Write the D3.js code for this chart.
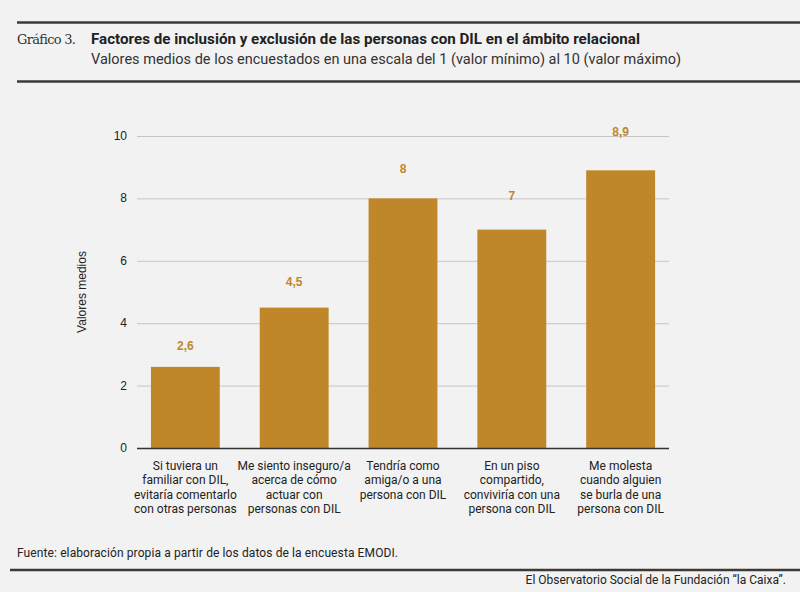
<!DOCTYPE html>
<html>
<head>
<meta charset="utf-8">
<script src="https://cdn.jsdelivr.net/npm/d3@7"></script>
<style>
  body { margin: 0; background: #f2f2f2; }
  svg { display: block; }
</style>
</head>
<body>
<svg width="800" height="592"></svg>
<script>
// data
var categories = [
    ["Si tuviera un", "familiar con DIL,", "evitaría comentarlo", "con otras personas"],
    ["Me siento inseguro/a", "acerca de cómo", "actuar con", "personas con DIL"],
    ["Tendría como", "amiga/o a una", "persona con DIL"],
    ["En un piso", "compartido,", "conviviría con una", "persona con DIL"],
    ["Me molesta", "cuando alguien", "se burla de una", "persona con DIL"]
];
var values = [2.6, 4.5, 8, 7, 8.9];
var yTicks = [0, 2, 4, 6, 8, 10];

var svg = d3.select("svg");
var gold = "#c0872a";

svg.append("rect").attr("width", 800).attr("height", 592).attr("fill", "#f2f2f2");

// header
svg.append("line").attr("x1", 17).attr("x2", 800).attr("y1", 22.5).attr("y2", 22.5)
    .style("stroke", "#3d3935").style("stroke-width", 2.5);
svg.append("line").attr("x1", 17).attr("x2", 800).attr("y1", 81.5).attr("y2", 81.5)
    .style("stroke", "#3d3935").style("stroke-width", 2.5);
svg.append("text").attr("x", 17).attr("y", 44).text("Gráfico 3.")
    .style("font-family", "'DejaVu Serif', serif").style("font-size", "13px")
    .style("fill", "#333").attr("textLength", 59);
svg.append("text").attr("x", 91).attr("y", 44).text("Factores de inclusión y exclusión de las personas con DIL en el ámbito relacional")
    .style("font-family", "Roboto, sans-serif").style("font-weight", "bold").style("font-size", "14.5px")
    .style("fill", "#222").attr("textLength", 549).attr("lengthAdjust", "spacingAndGlyphs");
svg.append("text").attr("x", 91).attr("y", 64).text("Valores medios de los encuestados en una escala del 1 (valor mínimo) al 10 (valor máximo)")
    .style("font-family", "Roboto, sans-serif").style("font-size", "14px")
    .style("fill", "#333").attr("textLength", 590).attr("lengthAdjust", "spacingAndGlyphs");

var x = d3.scaleBand().domain(d3.range(values.length)).range([137, 669])
    .paddingInner(0.367).paddingOuter(0.128);
var y = d3.scaleLinear().domain([0, 10]).range([448, 136]);

var plot = svg.append("g");

// gridlines + tick labels
plot.selectAll(".grid").data(yTicks.slice(1)).enter().append("line")
    .attr("x1", 137).attr("x2", 669)
    .attr("y1", function (d) { return y(d) + 0.5; })
    .attr("y2", function (d) { return y(d) + 0.5; })
    .style("stroke", "#c6c6c6").style("stroke-width", 1);

plot.selectAll(".tick").data(yTicks).enter().append("text")
    .attr("x", 127).attr("y", function (d) { return y(d) + 4; })
    .attr("text-anchor", "end").text(function (d) { return d; })
    .style("font-family", "'Liberation Sans', Arial, sans-serif").style("font-size", "12px").style("fill", "#222");

svg.append("text").attr("transform", "translate(86,292) rotate(-90)")
    .attr("text-anchor", "middle").text("Valores medios")
    .style("font-family", "'Liberation Sans', Arial, sans-serif").style("font-size", "12px").style("fill", "#222");

// bars
plot.selectAll(".bar").data(values).enter().append("rect")
    .attr("x", function (d, i) { return x(i); })
    .attr("y", function (d) { return y(d); })
    .attr("width", x.bandwidth())
    .attr("height", function (d) { return y(0) - y(d); })
    .style("fill", gold);

plot.selectAll(".val").data(values).enter().append("text")
    .attr("x", function (d, i) { return x(i) + x.bandwidth() / 2; })
    .attr("y", function (d, i) { return y(d) - 17 - 4.3 * i; })
    .attr("text-anchor", "middle")
    .text(function (d) { return String(d).replace(".", ","); })
    .style("font-family", "'Liberation Sans', Arial, sans-serif").style("font-weight", "bold")
    .style("font-size", "12px").style("fill", gold);

// axis line
plot.append("line").attr("x1", 137).attr("x2", 669).attr("y1", 448.5).attr("y2", 448.5)
    .style("stroke", "#333").style("stroke-width", 1.5);

// category labels
var lab = plot.selectAll(".cat").data(categories).enter().append("text")
    .attr("text-anchor", "middle")
    .style("font-family", "Roboto, sans-serif").style("font-size", "12px").style("fill", "#222");
lab.selectAll("tspan").data(function (d, i) { return d.map(function (t) { return [t, i]; }); })
    .enter().append("tspan")
    .attr("x", function (d) { return x(d[1]) + x.bandwidth() / 2; })
    .attr("y", function (d, j) { return 470 + j * 14.3; })
    .text(function (d) { return d[0]; });

// footer
svg.append("text").attr("x", 17).attr("y", 557).text("Fuente: elaboración propia a partir de los datos de la encuesta EMODI.")
    .style("font-family", "Roboto, sans-serif").style("font-size", "12px").style("fill", "#222")
    .attr("textLength", 381);
svg.append("line").attr("x1", 10).attr("x2", 800).attr("y1", 570).attr("y2", 570)
    .style("stroke", "#3d3935").style("stroke-width", 2.5);
svg.append("text").attr("x", 786).attr("y", 584).attr("text-anchor", "end")
    .text("El Observatorio Social de la Fundación “la Caixa”.")
    .style("font-family", "Roboto, sans-serif").style("font-size", "12px").style("fill", "#222");
</script>
</body>
</html>
